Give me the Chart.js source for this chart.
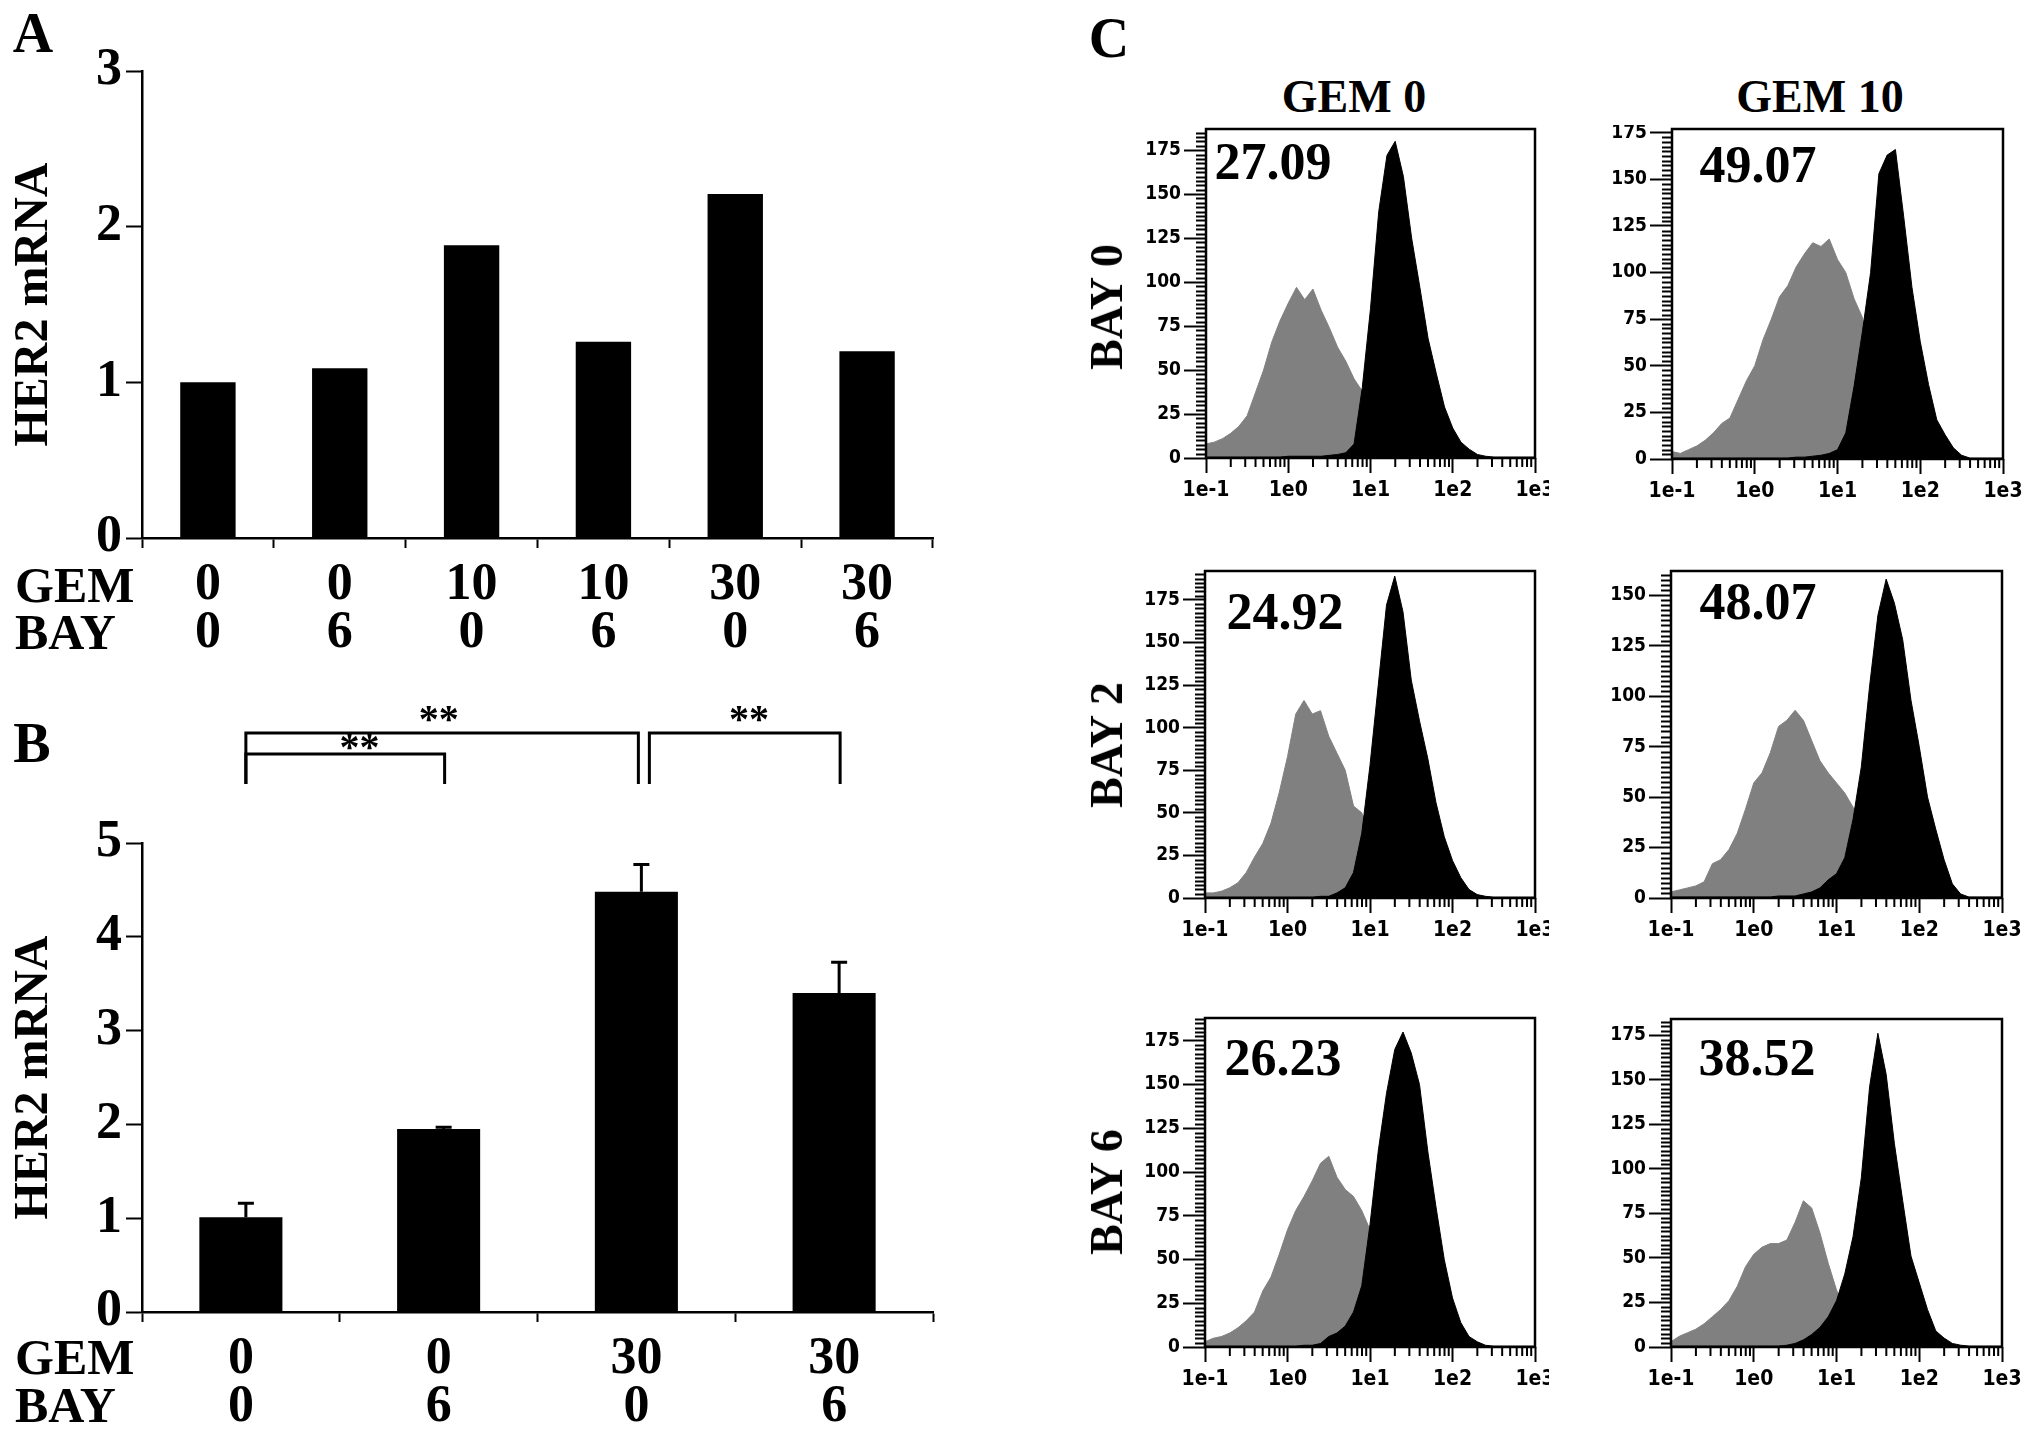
<!DOCTYPE html>
<html>
<head>
<meta charset="utf-8">
<script src="https://cdn.jsdelivr.net/npm/chart.js@4.4.1/dist/chart.umd.min.js"></script>
<style>
  html, body { margin: 0; padding: 0; background: #fff; }
  #fig { position: relative; width: 2031px; height: 1436px; overflow: hidden; background: #fff; }
  .wrap { position: absolute; overflow: hidden; }
  .wrap canvas { position: absolute; left: 0; top: 0; }
  .t { position: absolute; font-family: 'Liberation Serif', 'Times New Roman', serif; font-weight: bold;
       line-height: 1; white-space: nowrap; color: #000; }
  .c { transform: translate(-50%, -50%); }
  .l { transform: translateY(-50%); }
  .r { transform: translate(-50%, -50%) rotate(-90deg); }
</style>
</head>
<body>
<div id="fig">
  <div class="wrap" style="left:0;top:0;width:960px;height:660px"><canvas id="chartA" width="960" height="660"></canvas></div>
  <div class="wrap" style="left:0;top:680px;width:960px;height:756px"><canvas id="chartB" width="960" height="756"></canvas></div>

  <div class="wrap" id="w0"><canvas id="h0"></canvas></div>
  <div class="wrap" id="w1"><canvas id="h1"></canvas></div>
  <div class="wrap" id="w2"><canvas id="h2"></canvas></div>
  <div class="wrap" id="w3"><canvas id="h3"></canvas></div>
  <div class="wrap" id="w4"><canvas id="h4"></canvas></div>
  <div class="wrap" id="w5"><canvas id="h5"></canvas></div>

  <div class="t c" style="left:33px;top:33px;font-size:56px">A</div>
  <div class="t c" style="left:32px;top:743px;font-size:56px">B</div>
  <div class="t c" style="left:1109px;top:38px;font-size:56px">C</div>

  <div class="t l" style="left:15px;top:585px;font-size:50px">GEM</div>
  <div class="t l" style="left:15px;top:632px;font-size:50px">BAY</div>
  <div class="t l" style="left:15px;top:1357px;font-size:50px">GEM</div>
  <div class="t l" style="left:15px;top:1405px;font-size:50px">BAY</div>

  <div class="t c" style="left:1354px;top:97px;font-size:46px">GEM 0</div>
  <div class="t c" style="left:1820px;top:97px;font-size:46px">GEM 10</div>
  <div class="t r" style="left:1107px;top:307px;font-size:46px">BAY 0</div>
  <div class="t r" style="left:1107px;top:745px;font-size:46px">BAY 2</div>
  <div class="t r" style="left:1107px;top:1192px;font-size:46px">BAY 6</div>

  <div class="t c" style="left:1273px;top:162px;font-size:52px">27.09</div>
  <div class="t c" style="left:1758px;top:165px;font-size:52px">49.07</div>
  <div class="t c" style="left:1285px;top:612px;font-size:52px">24.92</div>
  <div class="t c" style="left:1758px;top:602px;font-size:52px">48.07</div>
  <div class="t c" style="left:1283px;top:1058px;font-size:52px">26.23</div>
  <div class="t c" style="left:1757px;top:1058px;font-size:52px">38.52</div>
</div>

<script>
// ---- panel A ----
const gemA = ['0', '0', '10', '10', '30', '30'];
const bayA = ['0', '6', '0', '6', '0', '6'];
const her2A = [1.00, 1.09, 1.88, 1.26, 2.21, 1.20];

// ---- panel B ----
const gemB = ['0', '0', '30', '30'];
const bayB = ['0', '6', '0', '6'];
const her2B = [1.01, 1.95, 4.48, 3.40];
const errB = [0.15, 0.02, 0.29, 0.33];
const sigFrom = [0, 0, 2];
const sigTo = [2, 1, 3];
const sigText = ['**', '**', '**'];

// ---- panel C: flow histograms, bins in log10 units ----
const logBins = [-1.0, -0.9, -0.8, -0.7, -0.6, -0.5, -0.4, -0.3, -0.2, -0.1,
  0.0, 0.1, 0.2, 0.3, 0.4, 0.5, 0.6, 0.7, 0.8, 0.9,
  1.0, 1.1, 1.2, 1.3, 1.4, 1.5, 1.6, 1.7, 1.8, 1.9,
  2.0, 2.1, 2.2, 2.3, 2.4, 2.5, 2.6, 2.7, 2.8, 2.9, 3.0];
const xTickLabels = ['1e-1', '1e0', '1e1', '1e2', '1e3'];

const grayBay0Gem0 = [8, 9, 11, 14, 18, 24, 37, 50, 66, 78,
  88, 97, 90, 96, 84, 74, 63, 55, 45, 38,
  28, 16, 8, 4, 2, 1, 0, 0, 0, 0,
  0, 0, 0, 0, 0, 0, 0, 0, 0, 0, 0];
const blackBay0Gem0 = [0.5, 0.5, 0.5, 0.5, 0.5, 0.5, 0.5, 0.5, 0.5, 0.5,
  1, 1, 1, 1, 1, 1.5, 2, 3, 8, 40,
  85, 140, 172, 180, 160, 125, 97, 68, 48, 29,
  17, 9, 5, 2, 1, 0.5, 0.5, 0.5, 0.5, 0.5, 0.5];

const grayBay0Gem10 = [4, 3, 5, 7, 10, 14, 19, 22, 32, 42,
  50, 64, 75, 87, 93, 103, 110, 116, 114, 118,
  107, 100, 86, 76, 55, 32, 16, 7, 3, 1,
  0, 0, 0, 0, 0, 0, 0, 0, 0, 0, 0];
const blackBay0Gem10 = [0.5, 0.5, 0.5, 0.5, 0.5, 0.5, 0.5, 0.5, 0.5, 0.5,
  0.5, 0.5, 0.5, 0.5, 0.5, 1, 1, 1.5, 2, 3,
  5, 14, 39, 68, 100, 153, 163, 166, 130, 92,
  63, 40, 21, 13, 6, 2, 0.5, 0.5, 0.5, 0.5, 0.5];

const grayBay2Gem0 = [3, 3, 4, 6, 9, 15, 24, 32, 44, 62,
  83, 108, 116, 108, 110, 95, 85, 75, 54, 50,
  35, 20, 10, 5, 2, 1, 0, 0, 0, 0,
  0, 0, 0, 0, 0, 0, 0, 0, 0, 0, 0];
const blackBay2Gem0 = [0.5, 0.5, 0.5, 0.5, 0.5, 0.5, 0.5, 0.5, 0.5, 0.5,
  0.5, 0.5, 0.5, 0.5, 1, 1, 3, 6, 15, 38,
  78, 125, 172, 189, 168, 128, 104, 82, 56, 36,
  22, 12, 5, 2, 1, 0.5, 0.5, 0.5, 0.5, 0.5, 0.5];

const grayBay2Gem10 = [3, 4, 5, 6, 8, 17, 19, 24, 32, 44,
  57, 62, 72, 85, 88, 93, 88, 78, 68, 62,
  57, 52, 45, 35, 22, 12, 6, 3, 1, 0,
  0, 0, 0, 0, 0, 0, 0, 0, 0, 0, 0];
const blackBay2Gem10 = [0.5, 0.5, 0.5, 0.5, 0.5, 0.5, 0.5, 0.5, 0.5, 0.5,
  0.5, 0.5, 0.5, 1, 1, 1, 2, 3, 5, 9,
  12, 20, 39, 65, 105, 140, 158, 146, 128, 98,
  75, 50, 34, 19, 7, 2, 0.5, 0.5, 0.5, 0.5, 0.5];

const grayBay6Gem0 = [3, 5, 6, 8, 11, 15, 20, 32, 40, 53,
  67, 78, 86, 95, 105, 109, 97, 90, 86, 78,
  67, 45, 25, 12, 5, 2, 1, 0, 0, 0,
  0, 0, 0, 0, 0, 0, 0, 0, 0, 0, 0];
const blackBay6Gem0 = [0.5, 0.5, 0.5, 0.5, 0.5, 0.5, 0.5, 0.5, 0.5, 0.5,
  0.5, 0.5, 1, 1, 2, 6, 8, 12, 20, 35,
  70, 112, 145, 170, 180, 168, 150, 112, 80, 50,
  28, 14, 6, 3, 1, 0.5, 0.5, 0.5, 0.5, 0.5, 0.5];

const grayBay6Gem10 = [3, 6, 8, 10, 13, 17, 21, 26, 34, 45,
  52, 56, 58, 58, 60, 70, 82, 78, 64, 47,
  32, 20, 10, 5, 2, 1, 0, 0, 0, 0,
  0, 0, 0, 0, 0, 0, 0, 0, 0, 0, 0];
const blackBay6Gem10 = [0.5, 0.5, 0.5, 0.5, 0.5, 0.5, 0.5, 0.5, 0.5, 0.5,
  0.5, 0.5, 0.5, 0.5, 1, 2, 4, 7, 11, 17,
  26, 41, 62, 95, 146, 176, 153, 114, 82, 51,
  36, 21, 9, 5, 2, 1, 0.5, 0.5, 0.5, 0.5, 0.5];

const histYMax = [187, 177, 192, 162, 188, 184];

const SERIF = "'Liberation Serif', 'Times New Roman', serif";
const NARROW = "'DejaVu Sans Condensed', 'Liberation Sans Narrow', 'DejaVu Sans', sans-serif";

Chart.defaults.color = '#000';
Chart.defaults.animation = false;

function barChart(canvasId, gem, bay, values, yMax, padTop, xHeight, extraPlugins) {
  return new Chart(document.getElementById(canvasId), {
    type: 'bar',
    data: {
      labels: gem.map((g, i) => [g, bay[i]]),
      datasets: [{
        data: values,
        backgroundColor: '#000',
        borderWidth: 0,
        barPercentage: 0.42,
        categoryPercentage: 1.0
      }]
    },
    options: {
      responsive: false,
      maintainAspectRatio: false,
      layout: { padding: { left: 0, top: padTop, right: 27, bottom: 0 } },
      plugins: { legend: { display: false }, tooltip: { enabled: false } },
      scales: {
        x: {
          grid: { drawOnChartArea: false, tickLength: 10, tickWidth: 2, tickColor: '#000', offset: true },
          border: { display: true, color: '#000', width: 2.5 },
          ticks: {
            color: '#000', padding: 13, maxRotation: 0, autoSkip: false,
            font: { family: SERIF, size: 52, weight: 'bold', lineHeight: 0.93 }
          },
          afterFit: s => { s.height = xHeight; s.paddingLeft = 0; s.paddingRight = 0; }
        },
        y: {
          min: 0, max: yMax,
          ticks: { stepSize: 1, color: '#000', padding: 4, font: { family: SERIF, size: 52, weight: 'bold' } },
          grid: { drawOnChartArea: false, tickLength: 16, tickWidth: 2, tickColor: '#000' },
          border: { display: true, color: '#000', width: 2.5 },
          title: {
            display: true, text: 'HER2 mRNA', color: '#000',
            font: { family: SERIF, size: 48, weight: 'bold' },
            padding: { top: 6, bottom: 0 }
          },
          afterFit: s => { s.width = 142; s.paddingTop = 0; s.paddingBottom = 0; }
        }
      }
    },
    plugins: extraPlugins || []
  });
}

// error bars and significance brackets for panel B
const statsPlugin = {
  id: 'stats',
  afterDatasetsDraw(chart) {
    const { ctx, chartArea, scales: { x, y } } = chart;
    ctx.save();
    ctx.strokeStyle = '#000';
    ctx.fillStyle = '#000';
    ctx.lineWidth = 3;
    her2B.forEach((v, i) => {
      const cx = x.getPixelForValue(i) + 5;
      const y0 = y.getPixelForValue(v);
      const y1 = y.getPixelForValue(v + errB[i]);
      ctx.beginPath();
      ctx.moveTo(cx, y0); ctx.lineTo(cx, y1);
      ctx.moveTo(cx - 8, y1); ctx.lineTo(cx + 8, y1);
      ctx.stroke();
    });

    const rise = [110, 89, 110];
    const starRise = [131, 103, 131];
    const starAt = [1, 0.6, 2.57];
    const endShift = [-2, 2, 2];
    const startShift = [5, 5, 13];
    const dropTo = chartArea.top - 59;
    ctx.lineWidth = 3;
    sigFrom.forEach((a, k) => {
      const xa = x.getPixelForValue(a) + startShift[k];
      const xb = x.getPixelForValue(sigTo[k]) + endShift[k] + 4;
      const yl = chartArea.top - rise[k];
      ctx.beginPath();
      ctx.moveTo(xa, dropTo); ctx.lineTo(xa, yl); ctx.lineTo(xb, yl); ctx.lineTo(xb, dropTo);
      ctx.stroke();
      ctx.font = 'bold 40px ' + SERIF;
      ctx.textAlign = 'center';
      ctx.textBaseline = 'alphabetic';
      ctx.fillText(sigText[k], x.getPixelForValue(starAt[k]), chartArea.top - starRise[k] + 20);
    });
    ctx.restore();
  }
};

barChart('chartA', gemA, bayA, her2A, 3, 71, 122);
barChart('chartB', gemB, bayB, her2B, 5, 163, 124, [statsPlugin]);

// frame, minor ticks for histograms
const histFrame = {
  id: 'histFrame',
  afterDraw(chart) {
    const { ctx, chartArea: a, scales: { x, y } } = chart;
    ctx.save();
    ctx.strokeStyle = '#000';
    ctx.lineWidth = 2;
    ctx.beginPath();
    for (let v = 2.5; v < y.max; v += 2.5) {
      if (v % 25 === 0) continue;
      const py = Math.round(y.getPixelForValue(v)) + 0.5;
      ctx.moveTo(a.left - 10, py); ctx.lineTo(a.left, py);
    }
    for (let n = -1; n < 3; n++) {
      for (let k = 2; k <= 9; k++) {
        const px = x.getPixelForValue(n + Math.log10(k));
        ctx.moveTo(px, a.bottom); ctx.lineTo(px, a.bottom + 9);
      }
    }
    ctx.stroke();
    ctx.lineWidth = 2.5;
    ctx.strokeRect(a.left, a.top, a.right - a.left, a.bottom - a.top);
    ctx.restore();
  }
};

const histPanels = [
  { gray: grayBay0Gem0, black: blackBay0Gem0, L: 1206, T: 129, R: 1535, B: 458, clip: 1549 },
  { gray: grayBay0Gem10, black: blackBay0Gem10, L: 1672, T: 129, R: 2003, B: 459, clip: 2031 },
  { gray: grayBay2Gem0, black: blackBay2Gem0, L: 1205, T: 571, R: 1535, B: 898, clip: 1549 },
  { gray: grayBay2Gem10, black: blackBay2Gem10, L: 1671, T: 571, R: 2002, B: 898, clip: 2031 },
  { gray: grayBay6Gem0, black: blackBay6Gem0, L: 1205, T: 1018, R: 1535, B: 1347, clip: 1549 },
  { gray: grayBay6Gem10, black: blackBay6Gem10, L: 1671, T: 1019, R: 2002, B: 1347, clip: 2031 }
];

histPanels.forEach((p, i) => {
  const yW = 76, xH = 60, padTop = 4, padRight = 30;
  const left = p.L - yW, top = p.T - padTop;
  const width = (p.R - p.L) + yW + padRight;
  const height = (p.B - p.T) + padTop + xH;
  const wrap = document.getElementById('w' + i);
  wrap.style.left = left + 'px';
  wrap.style.top = top + 'px';
  wrap.style.width = Math.min(width, p.clip - left) + 'px';
  wrap.style.height = height + 'px';
  const cv = document.getElementById('h' + i);
  cv.width = width;
  cv.height = height;

  const series = (vals, color) => ({
    data: logBins.map((b, j) => ({ x: b, y: vals[j] })),
    borderColor: color,
    backgroundColor: color,
    borderWidth: 1,
    fill: 'origin',
    pointRadius: 0,
    tension: 0
  });

  new Chart(cv, {
    type: 'line',
    data: { datasets: [series(p.black, '#000'), series(p.gray, '#808080')] },
    options: {
      responsive: false,
      maintainAspectRatio: false,
      layout: { padding: { left: 0, top: padTop, right: padRight, bottom: 0 } },
      plugins: { legend: { display: false }, tooltip: { enabled: false } },
      scales: {
        x: {
          type: 'linear', min: -1, max: 3,
          afterBuildTicks: s => { s.ticks = xTickLabels.map((t, k) => ({ value: k - 1 })); },
          ticks: {
            color: '#000', padding: 5, maxRotation: 0, autoSkip: false,
            font: { family: NARROW, size: 21, weight: 'bold' },
            callback: (v, k) => xTickLabels[k]
          },
          grid: { drawOnChartArea: false, tickLength: 15, tickWidth: 2, tickColor: '#000' },
          border: { display: false },
          afterFit: s => { s.height = xH; s.paddingLeft = 0; s.paddingRight = 0; }
        },
        y: {
          min: 0, max: histYMax[i],
          ticks: {
            stepSize: 25, includeBounds: false, color: '#000', padding: 3,
            font: { family: NARROW, size: 19, weight: 'bold' }
          },
          grid: { drawOnChartArea: false, tickLength: 22, tickWidth: 2, tickColor: '#000' },
          border: { display: false },
          afterFit: s => { s.width = yW; s.paddingTop = 0; s.paddingBottom = 0; }
        }
      }
    },
    plugins: [histFrame]
  });
});
</script>
</body>
</html>
